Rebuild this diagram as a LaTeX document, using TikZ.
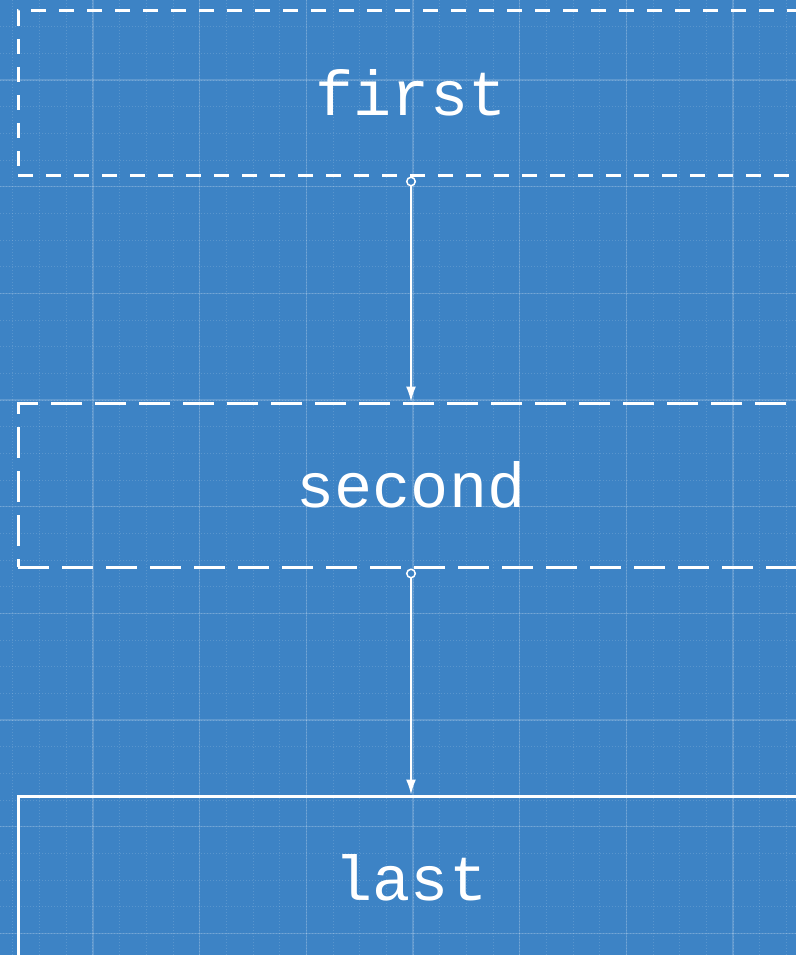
\documentclass[tikz,border=0pt]{standalone}
\usepackage{fontspec}
\setmonofont{Liberation Mono}
\usetikzlibrary{arrows.meta}
\definecolor{bp}{RGB}{61,131,197}
\tikzset{
  box/.style={draw=white, line width=3pt, minimum width=786pt, minimum height=164pt,
    inner sep=0pt, text=white, font=\ttfamily\fontsize{63.5}{63.5}\selectfont},
  conn/.style={draw=white, line width=1.5pt,
    {Circle[open,length=10pt,width=10pt,fill=bp,line width=1.5pt]}-{Latex[length=15pt,width=10pt]}},
  major/.style={white, opacity=0.17, line width=1.5pt},
  minor/.style={white, opacity=0.15, line width=1pt, dash pattern=on 1pt off 2pt}
}
\begin{document}
\begin{tikzpicture}[x=1pt,y=-1pt]
\useasboundingbox (0,0) rectangle (796,955);
\clip (0,0) rectangle (796,955);
\fill[bp] (0,0) rectangle (796,955);
% minor grid
\foreach \i in {0,...,31} {
  \draw[minor] ({-13.67+26.667*\i},0) -- ({-13.67+26.667*\i},955);
}
\foreach \i in {0,...,36} {
  \draw[minor] (0,{26.667*\i}) -- (796,{26.667*\i});
}
% major grid
\foreach \i in {1,...,8} {
  \draw[major] ({-13.67+106.667*\i},0) -- ({-13.67+106.667*\i},955);
}
\foreach \i in {1,...,9} {
  \draw[major] (0,{-26.667+106.667*\i}) -- (796,{-26.667+106.667*\i});
}
\node[box, dash pattern=on 15pt off 13pt] (first) at (411,93) {first};
\node[box, dash pattern=on 31pt off 13pt] (second) at (411,485) {second};
\node[box] (last) at (411,878) {last};
\draw[conn] (first.south) -- (second.north);
\draw[conn] (second.south) -- (last.north);
\end{tikzpicture}
\end{document}
